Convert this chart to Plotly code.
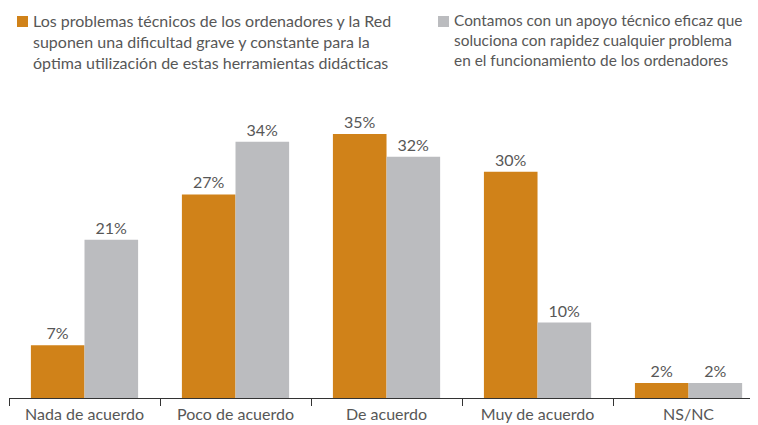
import plotly.graph_objects as go

categories = ["Nada de acuerdo", "Poco de acuerdo", "De acuerdo", "Muy de acuerdo", "NS/NC"]
series_names = [
    "Los problemas técnicos de los ordenadores y la Red<br>suponen una dificultad grave y constante para la<br>óptima utilización de estas herramientas didácticas",
    "Contamos con un apoyo técnico eficaz que<br>soluciona con rapidez cualquier problema<br>en el funcionamiento de los ordenadores",
]
problemas = [7, 27, 35, 30, 2]
apoyo = [21, 34, 32, 10, 2]

ORANGE = "#D08219"
GRAY = "#BBBCBF"
TEXT = "#575757"
FONT = "Lato"

# the page body has an 8px margin; size the figure so it fills the 758x425 window
OFF = 8
W, H = 758 - OFF, 425 - OFF
ml, mr, mt, mb = 9 - OFF, 0, 100 - OFF, 27
pw = W - ml - mr
ph = H - mt - mb

fig = go.Figure()
for vals, col, name in [(problemas, ORANGE, series_names[0]), (apoyo, GRAY, series_names[1])]:
    fig.add_trace(go.Bar(
        x=categories, y=vals, name=name, marker_color=col, marker_line_width=0,
        texttemplate="%{y}%", textposition="outside",
        textfont=dict(family=FONT, size=16, color=TEXT),
        cliponaxis=False, showlegend=False,
    ))

def px_x(p):
    # p: page pixel
    return (p - OFF - ml) / pw

def px_y(p):
    return (H - mb - (p - OFF)) / ph

shapes = []
annotations = []
for (sx0, sx1, tx), col, name, fs in [((17, 28, 31), ORANGE, series_names[0], 16),
                                      ((438, 449, 452), GRAY, series_names[1], 15.4)]:
    shapes.append(dict(type="rect", xref="paper", yref="paper",
                       x0=px_x(sx0), x1=px_x(sx1), y0=px_y(27), y1=px_y(16),
                       fillcolor=col, line_width=0))
    annotations.append(dict(xref="paper", yref="paper", x=px_x(tx), y=px_y(9),
                            xanchor="left", yanchor="top", align="left",
                            text=name, showarrow=False,
                            font=dict(family=FONT, size=fs, color=TEXT)))

fig.update_layout(
    width=W, height=H,
    margin=dict(l=ml, r=mr, t=mt, b=mb, pad=0),
    paper_bgcolor="white", plot_bgcolor="white",
    barmode="group", bargap=0.29, bargroupgap=0,
    font=dict(family=FONT, size=16, color=TEXT),
    shapes=shapes, annotations=annotations,
    xaxis=dict(range=[-0.5, 4.46], tickson="boundaries", ticks="outside",
               ticklen=7, tickcolor="#333", tickwidth=1.2,
               showline=True, linecolor="#333", linewidth=1.2,
               showgrid=False, tickfont=dict(family=FONT, size=16, color=TEXT),
               ticklabelstandoff=2, fixedrange=True),
    yaxis=dict(range=[0, ph / 7.54], visible=False, showgrid=False, fixedrange=True),
)

fig.write_html("out.html")
